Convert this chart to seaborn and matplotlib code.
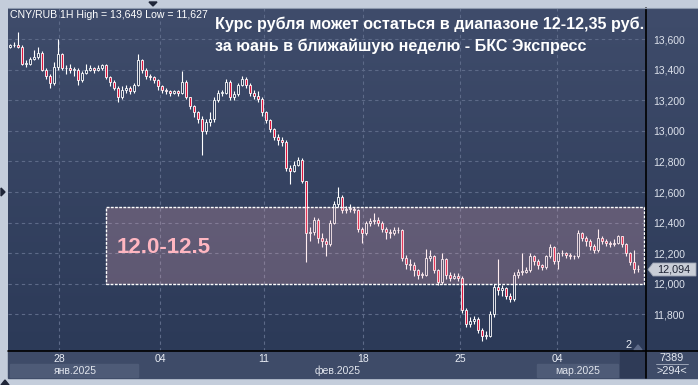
import numpy as np
import pandas as pd
import matplotlib
matplotlib.use("Agg")
import matplotlib.pyplot as plt
import seaborn as sns
from matplotlib.patches import Rectangle, Polygon
from matplotlib.lines import Line2D
from matplotlib.ticker import FuncFormatter
from matplotlib.colors import LinearSegmentedColormap
import matplotlib.transforms as mtransforms

# CNY/RUB hourly candles (approx.)
close = [13.56, 13.56, 13.55, 13.44, 13.44, 13.47, 13.48, 13.51, 13.40, 13.36,
         13.31, 13.42, 13.50, 13.41, 13.41, 13.40, 13.40, 13.33, 13.38, 13.40,
         13.41, 13.40, 13.41, 13.43, 13.35, 13.32, 13.28, 13.22, 13.27, 13.28,
         13.26, 13.30, 13.46, 13.40, 13.36, 13.35, 13.33, 13.29, 13.27, 13.26,
         13.25, 13.26, 13.25, 13.32, 13.22, 13.16, 13.12, 13.08, 13.00, 13.06,
         13.08, 13.20, 13.25, 13.25, 13.32, 13.22, 13.24, 13.30, 13.34, 13.30,
         13.25, 13.23, 13.21, 13.12, 13.07, 13.01, 12.96, 12.94, 12.93, 12.76,
         12.74, 12.78, 12.81, 12.67, 12.33, 12.34, 12.42, 12.30, 12.28, 12.26,
         12.40, 12.52, 12.57, 12.48, 12.49, 12.49, 12.48, 12.36, 12.33, 12.40,
         12.41, 12.42, 12.40, 12.36, 12.34, 12.33, 12.35, 12.35, 12.17, 12.13,
         12.12, 12.09, 12.06, 12.06, 12.17, 12.18, 12.09, 12.01, 12.16, 12.06,
         12.04, 12.05, 12.04, 11.83, 11.74, 11.76, 11.77, 11.70, 11.66, 11.66,
         11.80, 11.98, 11.96, 11.97, 11.92, 11.90, 12.06, 12.08, 12.08, 12.09,
         12.18, 12.15, 12.12, 12.11, 12.18, 12.24, 12.15, 12.20, 12.20, 12.19,
         12.18, 12.18, 12.33, 12.30, 12.28, 12.25, 12.22, 12.30, 12.28, 12.27,
         12.26, 12.27, 12.31, 12.26, 12.20, 12.14, 12.10, 12.094]
high = [13.57, 13.58, 13.649, 13.56, 13.46, 13.48, 13.53, 13.55, 13.52, 13.41,
        13.37, 13.45, 13.60, 13.51, 13.43, 13.44, 13.42, 13.41, 13.39, 13.44,
        13.43, 13.42, 13.43, 13.44, 13.44, 13.36, 13.33, 13.29, 13.29, 13.30,
        13.29, 13.31, 13.50, 13.47, 13.41, 13.37, 13.36, 13.34, 13.30, 13.28,
        13.27, 13.27, 13.27, 13.39, 13.33, 13.22, 13.17, 13.13, 13.10, 13.08,
        13.12, 13.22, 13.27, 13.27, 13.34, 13.33, 13.26, 13.31, 13.36, 13.35,
        13.31, 13.27, 13.26, 13.22, 13.13, 13.08, 13.02, 12.98, 12.96, 12.94,
        12.78, 12.80, 12.83, 12.82, 12.67, 12.37, 12.44, 12.43, 12.33, 12.30,
        12.42, 12.54, 12.63, 12.58, 12.51, 12.52, 12.50, 12.49, 12.37, 12.41,
        12.43, 12.46, 12.44, 12.41, 12.37, 12.36, 12.37, 12.37, 12.36, 12.19,
        12.16, 12.14, 12.10, 12.08, 12.23, 12.22, 12.19, 12.10, 12.20, 12.17,
        12.08, 12.07, 12.07, 12.05, 11.84, 11.78, 11.79, 11.78, 11.71, 11.69,
        11.82, 12.00, 12.16, 11.99, 11.98, 11.94, 12.08, 12.10, 12.20, 12.11,
        12.20, 12.19, 12.16, 12.13, 12.19, 12.26, 12.25, 12.21, 12.22, 12.21,
        12.20, 12.19, 12.35, 12.34, 12.31, 12.29, 12.26, 12.36, 12.31, 12.29,
        12.28, 12.29, 12.32, 12.31, 12.27, 12.21, 12.22, 12.12]
low = [13.54, 13.55, 13.54, 13.43, 13.42, 13.43, 13.46, 13.47, 13.39, 13.34,
       13.28, 13.30, 13.40, 13.40, 13.37, 13.38, 13.36, 13.30, 13.32, 13.37,
       13.39, 13.38, 13.39, 13.40, 13.34, 13.29, 13.27, 13.19, 13.21, 13.25,
       13.24, 13.25, 13.29, 13.38, 13.34, 13.33, 13.31, 13.27, 13.25, 13.24,
       13.23, 13.24, 13.23, 13.24, 13.21, 13.14, 13.09, 13.05, 12.84, 12.98,
       13.03, 13.06, 13.19, 13.23, 13.24, 13.20, 13.20, 13.23, 13.29, 13.28,
       13.23, 13.21, 13.19, 13.10, 13.05, 12.99, 12.94, 12.91, 12.90, 12.74,
       12.65, 12.73, 12.77, 12.66, 12.14, 12.28, 12.32, 12.27, 12.24, 12.18,
       12.25, 12.39, 12.50, 12.46, 12.46, 12.47, 12.46, 12.34, 12.27, 12.32,
       12.38, 12.39, 12.38, 12.34, 12.29, 12.30, 12.32, 12.33, 12.15, 12.10,
       12.09, 12.05, 12.03, 12.04, 12.05, 12.15, 12.07, 11.99, 12.00, 12.03,
       12.02, 12.03, 12.02, 11.81, 11.72, 11.72, 11.74, 11.68, 11.627, 11.64,
       11.65, 11.78, 11.93, 11.92, 11.90, 11.88, 11.89, 12.04, 12.06, 12.07,
       12.08, 12.12, 12.10, 12.09, 12.10, 12.17, 12.13, 12.10, 12.18, 12.17,
       12.16, 12.16, 12.17, 12.28, 12.25, 12.22, 12.20, 12.21, 12.26, 12.25,
       12.24, 12.25, 12.26, 12.24, 12.18, 12.12, 12.07, 12.08]
first_open = 13.55

price_ticks = [11.8, 12.0, 12.2, 12.4, 12.6, 12.8, 13.0, 13.2, 13.4, 13.6]
day_ticks = [12.25, 37.5, 63.5, 88.25, 112.5, 136.75]   # candle index
day_labels = ['28', '04', '11', '18', '25', '04']
month_labels = ['янв.2025', 'фев.2025', 'мар.2025']
month_pos = [16.3, 82.0, 141.8]
zone_lo, zone_hi, zone_start = 12.0, 12.5, 24
last_price = 12.094

df = pd.DataFrame({'close': close, 'high': high, 'low': low})
df['open'] = [first_open] + close[:-1]
df['x'] = np.arange(len(df))
df['down'] = df['close'] < df['open']

W, H = 698, 385
BG_TOP, BG_BOT = '#3f4c6b', '#2c3a58'

def fr(x0, y0, x1, y1):
    return [x0 / W, 1 - y1 / H, (x1 - x0) / W, (y1 - y0) / H]

def P(x, y):
    return (x / W, 1 - y / H)

sns.set_style('dark')
plt.rcParams['font.family'] = ['Liberation Sans', 'DejaVu Sans']

fig = plt.figure(figsize=(W / 100, H / 100), dpi=100)
fig.patch.set_facecolor('#c4cddb')

# background gradient (plot + price scale)
bg = fig.add_axes(fr(8, 8, 698, 351))
grad = np.linspace(0, 1, 256).reshape(-1, 1)
cmap = LinearSegmentedColormap.from_list('bg', [BG_TOP, BG_BOT])
bg.imshow(grad, aspect='auto', cmap=cmap, extent=[0, 1, 0, 1], origin='upper')
bg.set_axis_off()

# bottom date panel
fig.add_artist(Rectangle(P(8, 378), 690 / W, 27 / H, transform=fig.transFigure,
                         color='#3e4b68', zorder=0))

ax = fig.add_axes(fr(8, 8, 646, 351))
ax.patch.set_alpha(0)

# wicks + bodies
ax.vlines(df['x'], df['low'], df['high'], color='white', lw=0.8, zorder=2)
body_lo = df[['open', 'close']].min(axis=1)
body_h = (df['close'] - df['open']).abs().clip(lower=0.004)
faces = np.where(df['down'], '#e0143c', BG_BOT)
ax.bar(df['x'], body_h, bottom=body_lo, width=0.72, color=faces,
       edgecolor='white', linewidth=0.6, zorder=3)

ax.set_xlim(-0.5, 159)
ax.set_ylim(11.561, 13.803)

# range zone
ax.add_patch(Rectangle((zone_start, zone_lo), 158.5 - zone_start, zone_hi - zone_lo,
                       facecolor=(1.0, 0.71, 0.76, 0.23), edgecolor='none', zorder=4))
ax.add_patch(Rectangle((zone_start, zone_lo), 158.5 - zone_start, zone_hi - zone_lo,
                       facecolor='none', edgecolor='white', lw=1.0,
                       linestyle=(0, (2, 1)), zorder=5))
ax.text(zone_start + 2.7, (zone_lo + zone_hi) / 2 - 0.01, '12.0-12.5', color='#ffb6c1',
        fontsize=16, fontweight='bold', va='center', ha='left', zorder=6)

# axes formatting
ax.yaxis.tick_right()
ax.set_yticks(price_ticks)
ax.yaxis.set_major_formatter(FuncFormatter(lambda v, p: f'{v:.3f}'.replace('.', ',')))
ax.set_xticks(day_ticks)
ax.set_xticklabels(day_labels)
ax.tick_params(axis='y', length=0, pad=5, labelsize=7.5, labelcolor='#dde2ec')
ax.tick_params(axis='x', length=0, pad=2, labelsize=7.5, labelcolor='#e8ecf4')
ax.grid(True, color='#5d6a88', ls=(0, (3, 3)), lw=0.8)
for s in ax.spines.values():
    s.set_visible(False)

# month labels and bands
tr = mtransforms.blended_transform_factory(ax.transData, fig.transFigure)
for lo_, hi_ in [(0, 32), (131.8, 152)]:
    ax.add_patch(Rectangle((lo_, 1 - 377 / H), hi_ - lo_, 13 / H, transform=tr,
                           color='#4e5b77', clip_on=False, zorder=1))
for m, xp in zip(month_labels, month_pos):
    ax.text(xp, 1 - 371 / H, m, transform=tr, ha='center', va='center',
            fontsize=7.5, color='#e2e6ee', clip_on=False)

# separators
fig.add_artist(Line2D([8 / W, 1], [1 - 351 / H] * 2, color='black', lw=1.2))
fig.add_artist(Line2D([646 / W] * 2, [1 - 378 / H, 1 - 8 / H], color='black', lw=1.2))
fig.add_artist(Line2D([8 / W, 1], [1 - 7.5 / H] * 2, color='#8d99ad', lw=0.8))

# texts
fig.text(*P(10, 15), 'CNY/RUB 1H High = 13,649 Low = 11,627', fontsize=7.6,
         color='white', va='center')
fig.text(*P(215, 29.5), 'Курс рубля может остаться в диапазоне 12-12,35 руб.',
         fontsize=11.6, fontweight='bold', color='white', va='baseline', ha='left')
fig.text(*P(215, 50.5), 'за юань в ближайшую неделю - БКС Экспресс',
         fontsize=11.6, fontweight='bold', color='white', va='baseline', ha='left')

# last price marker
fig.add_artist(Polygon([P(648, 269.5), P(653, 263), P(696, 263), P(696, 276), P(653, 276)],
                       closed=True, transform=fig.transFigure, facecolor='#c9ced7',
                       edgecolor='#9aa3b2', lw=0.6))
fig.text(*P(674, 270), f'{last_price:.3f}'.replace('.', ','), fontsize=7.8,
         color='#1c2233', ha='center', va='center')

# bottom right counters
fig.add_artist(Rectangle(P(620, 377), 25 / W, 25 / H, transform=fig.transFigure,
                         color='#2f3b57'))
fig.text(*P(672, 358), '7389', fontsize=7.8, color='#e6eaf2', ha='center', va='center')
fig.add_artist(Line2D([656 / W, 688 / W], [1 - 364 / H] * 2, color='#aab3c4', lw=0.6))
fig.text(*P(672, 371), '>294<', fontsize=7.8, color='#e6eaf2', ha='center', va='center')
fig.text(*P(628, 345), '2', fontsize=7.8, color='#e6eaf2', ha='center', va='center')
fig.add_artist(Polygon([P(634, 350), P(642, 350), P(638, 345)], closed=True,
                       transform=fig.transFigure, color='#5d6a88'))

# small frame arrows
fig.add_artist(Polygon([P(149, 2), P(157, 2), P(153, 6)], closed=True,
                       transform=fig.transFigure, color='#1f2638'))
fig.add_artist(Polygon([P(1, 188), P(1, 196), P(5, 192)], closed=True,
                       transform=fig.transFigure, color='#1f2638'))
fig.add_artist(Polygon([P(1, 385), P(9, 385), P(5, 380)], closed=True,
                       transform=fig.transFigure, color='#1f2638'))

fig.savefig('out.png', dpi=100, facecolor=fig.get_facecolor())
